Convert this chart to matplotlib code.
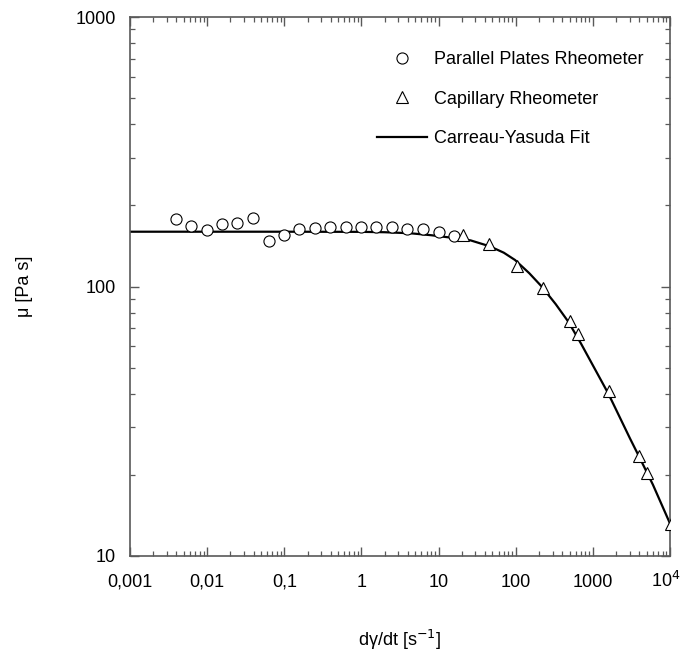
import matplotlib
matplotlib.use("Agg")
import matplotlib.pyplot as plt
import matplotlib.transforms as mtransforms
from matplotlib.ticker import LogLocator, FixedLocator, FixedFormatter, NullFormatter
import numpy as np

plt.rcParams['font.family'] = ['Liberation Sans', 'DejaVu Sans']

# parallel plates rheometer (circles)
pp_rate = [0.0039, 0.0062, 0.0099, 0.0157, 0.0246, 0.039, 0.063, 0.098,
           0.157, 0.248, 0.39, 0.625, 0.99, 1.56, 2.49, 3.94, 6.28, 10.0, 15.8]
pp_visc = [177.5, 168.1, 162.5, 171.0, 172.5, 180.0, 147.5, 155.3,
           163.0, 164.9, 166.7, 165.9, 165.9, 165.9, 165.9, 163.4, 163.8, 159.7, 153.6]

# capillary rheometer (triangles)
cap_rate = [20.7, 45.5, 103, 228, 511, 648, 1635, 3965, 5080, 10200]
cap_visc = [155.3, 143.7, 119.1, 99.0, 74.7, 66.8, 41.1, 23.4, 20.4, 13.1]

# Carreau-Yasuda fit
fit_rate = [0.001, 0.1, 1.0, 2.0, 4.3, 8.0, 14, 26, 46, 70, 98, 150, 217, 330,
            481, 700, 1000, 1590, 2200, 3030, 4090, 6000, 10000]
fit_visc = [159.7, 159.7, 159.5, 159.0, 157.6, 155.0, 152.0, 148.3, 141.0, 133.5,
            125.4, 112.0, 100.0, 86.0, 74.0, 61.5, 51.0, 40.0, 33.0, 27.3, 23.0,
            18.4, 13.2]

xtick_vals = [0.001, 0.01, 0.1, 1, 10, 100, 1000, 10000]
xtick_labels = ['0,001', '0,01', '0,1', '1', '10', '100', '1000', '10$^{4}$']
ytick_vals = [10, 100, 1000]
ytick_labels = ['10', '100', '1000']

fig = plt.figure(figsize=(6.83, 6.53), dpi=100)
ax = fig.add_axes([130 / 683, 1 - 556 / 653, 540 / 683, 539 / 653])

ax.plot(pp_rate, pp_visc, linestyle='None', marker='o', markersize=8,
        markerfacecolor='white', markeredgecolor='black', markeredgewidth=0.8,
        label='Parallel Plates Rheometer', zorder=3)
ax.plot(cap_rate, cap_visc, linestyle='None', marker='^', markersize=8.5,
        markerfacecolor='white', markeredgecolor='black', markeredgewidth=0.8,
        label='Capillary Rheometer', zorder=3)
ax.plot(fit_rate, fit_visc, color='black', lw=1.6, label='Carreau-Yasuda Fit', zorder=2)

ax.set_xscale('log')
ax.set_yscale('log')
ax.set_xlim(0.001, 10000)
ax.set_ylim(10, 1000)

ax.xaxis.set_major_locator(FixedLocator(xtick_vals))
ax.xaxis.set_major_formatter(FixedFormatter(xtick_labels))
ax.yaxis.set_major_locator(FixedLocator(ytick_vals))
ax.yaxis.set_major_formatter(FixedFormatter(ytick_labels))
ax.xaxis.set_minor_locator(LogLocator(base=10, subs=np.arange(2, 10), numticks=20))
ax.yaxis.set_minor_locator(LogLocator(base=10, subs=np.arange(2, 10), numticks=20))
ax.xaxis.set_minor_formatter(NullFormatter())
ax.yaxis.set_minor_formatter(NullFormatter())

for sp in ax.spines.values():
    sp.set_color('0.35')
    sp.set_linewidth(1.2)

ax.tick_params(which='both', direction='in', top=True, right=True, color='0.35',
               labelsize=13)
ax.tick_params(which='major', length=6.5, width=1.0)
ax.tick_params(which='minor', length=3.5, width=0.9)
ax.tick_params(axis='x', which='major', pad=22)
ax.tick_params(axis='y', which='major', pad=10)
# baseline-align x labels so the superscript one sits with the rest
for lbl in ax.get_xticklabels():
    lbl.set_verticalalignment('baseline')
# pull the last label a little inside the figure edge
last = ax.get_xticklabels()[-1]
last.set_transform(last.get_transform() +
                   mtransforms.ScaledTranslation(-3 / 72, 0, fig.dpi_scale_trans))

ax.set_xlabel('d\u03b3/dt [s$^{-1}$]', fontsize=13, labelpad=27)
ax.set_ylabel('\u03bc [Pa s]', fontsize=13, labelpad=31)

ax.legend(loc='upper left', bbox_to_anchor=(377 / 683, 1 - 51 / 653),
          bbox_transform=fig.transFigure, frameon=False, fontsize=13,
          handlelength=2.75, handletextpad=0.42, labelspacing=1.25, borderpad=0,
          borderaxespad=0)

fig.savefig('out.png', dpi=100)
